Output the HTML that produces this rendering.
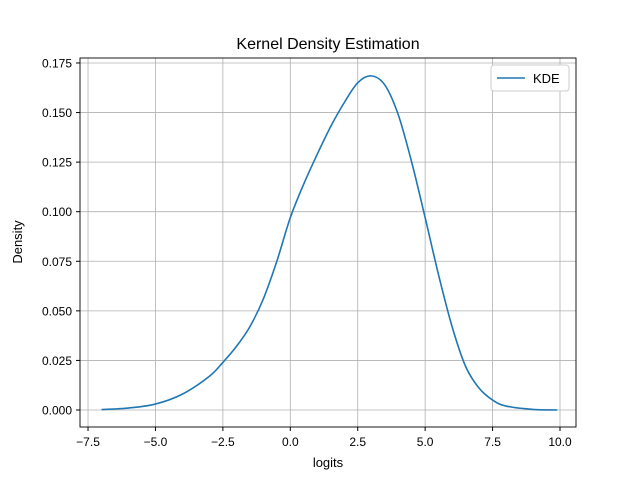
<!DOCTYPE html>
<html><head><meta charset="utf-8"><style>
body{margin:0;background:#fff}
svg{font-family:"Liberation Sans","DejaVu Sans",sans-serif}
</style></head><body>
<svg id="chart" width="640" height="480" xmlns="http://www.w3.org/2000/svg">
<rect width="640" height="480" fill="#fff"/>
<text x="328" y="49" text-anchor="middle" font-size="16">Kernel Density Estimation</text>
<g id="grid"></g>
<g id="ticks"></g>
<path id="curve" fill="none" stroke="#1f77b4" stroke-width="1.6"/>
<rect x="80" y="58" width="496" height="369" fill="none" stroke="#000" stroke-width="0.9"/>
<text x="328" y="467" text-anchor="middle" font-size="13">logits</text>
<text transform="translate(22,242) rotate(-90)" text-anchor="middle" font-size="13">Density</text>
<g>
<rect x="491" y="65" width="78" height="26" rx="3" fill="#fff" stroke="#ccc"/>
<line x1="497" y1="78" x2="525" y2="78" stroke="#1f77b4" stroke-width="1.6"/>
<text x="533" y="83" font-size="13">KDE</text>
</g>
</svg>
<script>
const xs=[-7,-6,-5,-4,-3,-2.5,-2,-1.5,-1,-0.5,0,0.5,1,1.5,2,2.5,3,3.5,4,4.5,5,5.5,6,6.5,7,7.5,8,9,9.9];
const ys=[0.0002,0.001,0.003,0.008,0.017,0.024,0.032,0.042,0.056,0.075,0.097,0.114,0.129,0.143,0.155,0.165,0.1685,0.164,0.149,0.125,0.097,0.068,0.042,0.022,0.011,0.005,0.002,0.0003,0.0];
const xTicks=[-7.5,-5,-2.5,0,2.5,5,7.5,10];
const xTickLabels=["−7.5","−5.0","−2.5","0.0","2.5","5.0","7.5","10.0"];
const yTicks=[0,0.025,0.05,0.075,0.1,0.125,0.15,0.175];
const yTickLabels=["0.000","0.025","0.050","0.075","0.100","0.125","0.150","0.175"];
const X=v=>290.3+v*26.97, Y=v=>410-v*1983;
const NS="http://www.w3.org/2000/svg";
const grid=document.getElementById('grid'), ticks=document.getElementById('ticks');
function mk(t,a,p){const e=document.createElementNS(NS,t);for(const k in a)e.setAttribute(k,a[k]);p.appendChild(e);return e;}
xTicks.forEach((v,i)=>{const x=X(v);
 const g=mk('line',{x1:x,x2:x,y1:58,y2:427,stroke:'#b0b0b0','stroke-width':0.8},grid);
 
 
 const t=mk('line',{x1:x,x2:x,y1:427,y2:431,stroke:'#000'},ticks);
 
 
 const l=mk('text',{x:x,y:446,'text-anchor':'middle','font-size':12},ticks);l.textContent=xTickLabels[i];
 
 
});
yTicks.forEach((v,i)=>{const y=Y(v);
 const g=mk('line',{x1:80,x2:576,y1:y,y2:y,stroke:'#b0b0b0','stroke-width':0.8},grid);
 
 
 const t=mk('line',{x1:76,x2:80,y1:y,y2:y,stroke:'#000'},ticks);
 
 
 const l=mk('text',{x:72,y:y+4.5,'text-anchor':'end','font-size':12},ticks);l.textContent=yTickLabels[i];
 
 
});
const P=xs.map((x,i)=>[X(x),Y(ys[i])]);
let d=`M${P[0][0]},${P[0][1]}`;
for(let i=0;i<P.length-1;i++){const p0=P[Math.max(i-1,0)],p1=P[i],p2=P[i+1],p3=P[Math.min(i+2,P.length-1)];
 d+=` C${p1[0]+(p2[0]-p0[0])/6},${p1[1]+(p2[1]-p0[1])/6} ${p2[0]-(p3[0]-p1[0])/6},${p2[1]-(p3[1]-p1[1])/6} ${p2[0]},${p2[1]}`;}
document.getElementById('curve').setAttribute('d',d);
</script>
</body></html>
